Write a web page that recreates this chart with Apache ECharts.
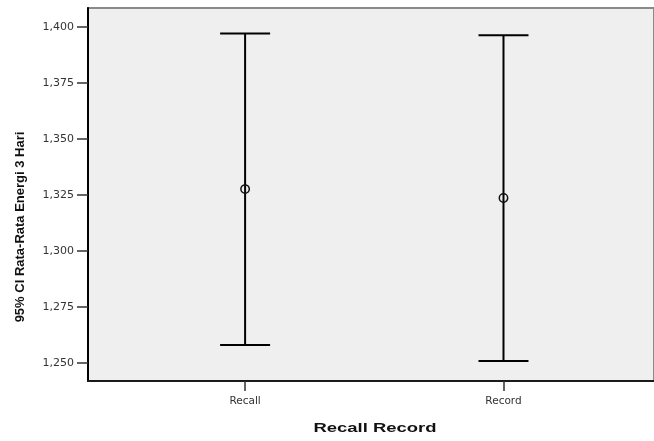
<!DOCTYPE html>
<html>
<head>
<meta charset="utf-8">
<script src="https://cdn.jsdelivr.net/npm/echarts@6/dist/echarts.min.js"></script>
<style>
  html, body { margin: 0; padding: 0; background: #fff; }
  #chart { width: 654px; height: 441px; }
</style>
</head>
<body>
<div id="chart"></div>
<script>
// data
var categories = ['Recall', 'Record'];
var lower = [1.2579, 1.2508];
var means = [1.3275, 1.3235];
var upper = [1.3970, 1.3962];
var yTicks = [1.250, 1.275, 1.300, 1.325, 1.350, 1.375, 1.400];

var myChart = echarts.init(document.getElementById('chart'));

var barData = categories.map(function (c, i) {
    return [i + 1, lower[i], means[i], upper[i]];
});

var option = {
    animation: false,
    grid: {
        left: 88,
        top: 8,
        right: -2,
        bottom: 60,
        show: true,
        backgroundColor: '#efefef',
        borderColor: '#8a8a8a',
        borderWidth: 2
    },
    xAxis: {
        type: 'value',
        min: 0.392,
        max: 2.5825,
        splitLine: { show: false },
        axisLine: { onZero: false, lineStyle: { color: '#1a1a1a', width: 2 } },
        axisTick: {
            customValues: [1, 2],
            length: 10,
            lineStyle: { color: '#333', width: 1.5 }
        },
        axisLabel: {
            customValues: [1, 2],
            margin: 15,
            color: '#333',
            fontFamily: 'DejaVu Sans',
            fontSize: 10.5,
            formatter: function (v) { return categories[Math.round(v) - 1] || ''; }
        }
    },
    yAxis: {
        type: 'value',
        min: 1.24183,
        max: 1.40835,
        splitLine: { show: false },
        axisLine: { show: true, onZero: false, lineStyle: { color: '#000', width: 2 } },
        axisTick: {
            customValues: yTicks,
            length: 11,
            lineStyle: { color: '#333', width: 1.5 }
        },
        axisLabel: {
            customValues: yTicks,
            margin: 14,
            color: '#333',
            fontFamily: 'DejaVu Sans',
            fontSize: 11,
            formatter: function (v) { return v.toFixed(3).replace('.', ','); }
        }
    },
    graphic: [
        {
            type: 'text',
            x: 20,
            y: 227,
            rotation: Math.PI / 2,
            style: {
                text: '95% CI Rata-Rata Energi 3 Hari',
                font: 'bold 13px "Liberation Sans"',
                fill: '#111',
                textAlign: 'center',
                textVerticalAlign: 'middle'
            }
        },
        {
            type: 'text',
            x: 375,
            y: 428,
            scaleX: 1.42,
            style: {
                text: 'Recall Record',
                font: 'bold 13px "Liberation Sans"',
                fill: '#111',
                textAlign: 'center',
                textVerticalAlign: 'middle'
            }
        }
    ],
    series: [
        {
            type: 'custom',
            data: barData,
            renderItem: function (params, api) {
                var x = api.value(0);
                var lo = api.coord([x, api.value(1)]);
                var mid = api.coord([x, api.value(2)]);
                var hi = api.coord([x, api.value(3)]);
                var half = 25;
                var ls = { stroke: '#000', lineWidth: 2 };
                return {
                    type: 'group',
                    children: [
                        { type: 'line', shape: { x1: lo[0], y1: lo[1], x2: hi[0], y2: hi[1] }, style: ls },
                        { type: 'line', shape: { x1: hi[0] - half, y1: hi[1], x2: hi[0] + half, y2: hi[1] }, style: ls },
                        { type: 'line', shape: { x1: lo[0] - half, y1: lo[1], x2: lo[0] + half, y2: lo[1] }, style: ls },
                        { type: 'circle', shape: { cx: mid[0], cy: mid[1], r: 4.2 }, style: { fill: 'none', stroke: '#111', lineWidth: 1.5 } }
                    ]
                };
            }
        }
    ]
};

myChart.setOption(option);
window.addEventListener('resize', function () {
    myChart.resize();
});
</script>
</body>
</html>
